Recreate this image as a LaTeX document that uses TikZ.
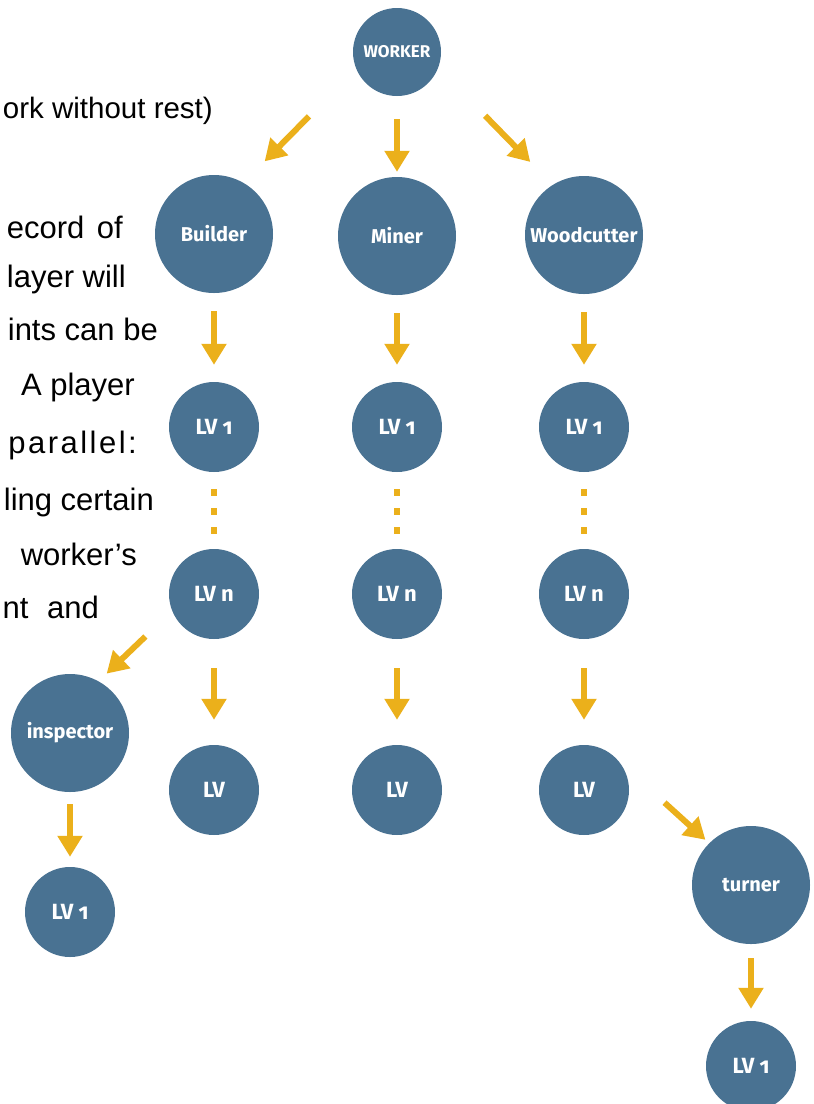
\documentclass[tikz,border=0pt]{standalone}
\usepackage{fontspec}
\setmainfont{Liberation Sans}
\newfontfamily\circfont{Fira Sans}[Numbers=OldStyle]
\usetikzlibrary{arrows.meta}
\definecolor{disc}{RGB}{73,114,146}
\definecolor{gold}{RGB}{235,176,27}
\tikzset{big/.style={circle,fill=disc,minimum size=118pt,inner sep=0pt,text=white,font=\circfont\bfseries\fontsize{20}{20}\selectfont}}
\tikzset{lv/.style={big,minimum size=90pt,font=\circfont\bfseries\fontsize{22}{22}\selectfont}}
\tikzset{flow/.style={draw=gold,line width=6pt,-{Triangle[width=24pt,length=21pt]}}}
\tikzset{dots/.style={draw=gold,line width=6pt,dash pattern=on 7pt off 12pt}}
\tikzset{txt/.style={anchor=base east,inner sep=0pt,font=\fontsize{31}{31}\selectfont}}

\begin{document}
\begin{tikzpicture}[x=1pt,y=-1pt]
        \useasboundingbox (0,0) rectangle (814,1104);
        \node[txt,font=\fontsize{29.5}{30}\selectfont] (t0) at (213,118) {ork without rest)};
        \node[txt] (t1) at (123,238) {ecord\hspace{4pt} of};
        \node[txt] (t2) at (126,287) {layer will};
        \node[txt] (t3) at (158,340) {ints can be};
        \node[txt] (t4) at (135,395) {A player};
        \node[txt] (t5) at (137,453) {\addfontfeatures{LetterSpace=8}parallel:};
        \node[txt] (t6) at (154,510) {ling certain};
        \node[txt] (t7) at (137,565) {worker's};
        \node[txt] (t8) at (99,618) {nt\hspace{10pt} and};
        \node[big,minimum size=88pt,font=\circfont\bfseries\fontsize{17}{17}\selectfont] (W) at (397,52) {WORKER};
        \node[big] (Bu) at (214,234) {Builder};
        \node[big] (Mi) at (397,236) {Miner};
        \node[big] (Wo) at (584,235) {Woodcutter};
        \node[lv] (Bu-1) at (214,427) {LV 1};
        \node[lv] (Mi-1) at (397,427) {LV 1};
        \node[lv] (Wo-1) at (584,427) {LV 1};
        \node[lv] (Bu-n) at (214,594) {LV n};
        \node[lv] (Mi-n) at (397,594) {LV n};
        \node[lv] (Wo-n) at (584,594) {LV n};
        \node[lv] (Bu-v) at (214,790) {LV};
        \node[lv] (Mi-v) at (397,790) {LV};
        \node[lv] (Wo-v) at (584,790) {LV};
        \node[big] (In) at (70,733) {inspector};
        \node[lv] (In-1) at (70,912) {LV 1};
        \node[big] (Tu) at (751,885) {turner};
        \node[lv] (Tu-1) at (751,1066) {LV 1};
        \draw[flow,shorten <=23pt,shorten >=5pt] (W) -- (Mi);
        \draw[flow,shorten <=67pt,shorten >=30pt] (W.202) -- (Bu.60);
        \draw[flow,shorten <=67pt,shorten >=32pt] (W.-21) -- (Wo.122);
        \foreach \c in {Bu,Mi,Wo} {
          \draw[flow,shorten <=18pt,shorten >=17pt] (\c) -- (\c-1);
          \draw[dots,shorten <=17pt,shorten >=15pt] (\c-1) -- (\c-n);
          \draw[flow,shorten <=29pt,shorten >=25pt] (\c-n) -- (\c-v);
        }
        \draw[flow,shorten <=37pt,shorten >=11pt] (Bu-n.202) -- (In.61);
        \draw[flow,shorten <=12pt,shorten >=10pt] (In) -- (In-1);
        \draw[flow,shorten <=62pt,shorten >=5pt] (Wo-v.40) -- (Tu.135);
        \draw[flow,shorten <=14pt,shorten >=12pt] (Tu) -- (Tu-1);
\end{tikzpicture}
\end{document}
